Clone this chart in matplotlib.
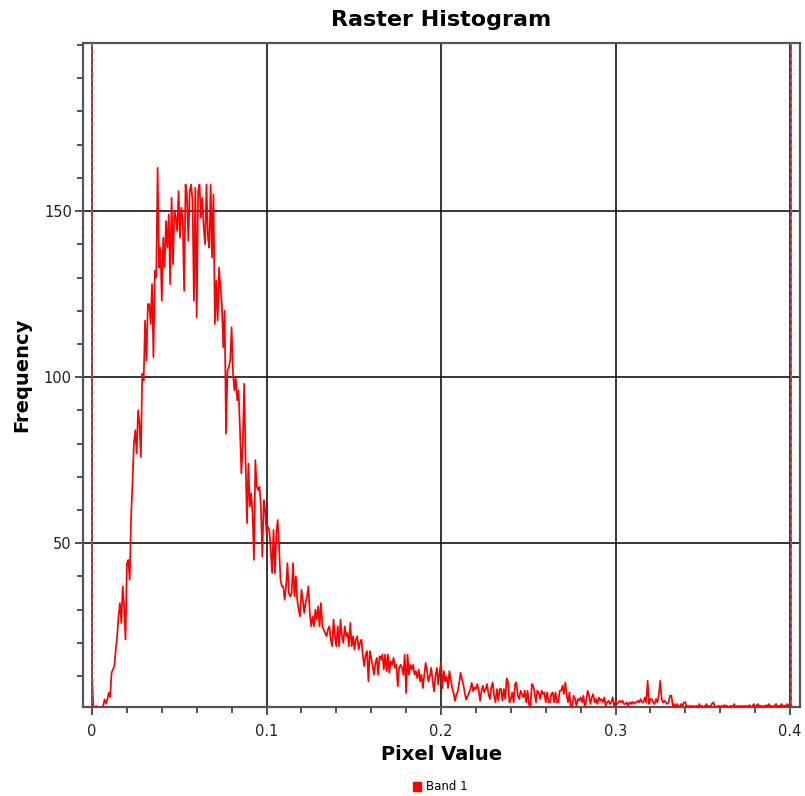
import numpy as np
import matplotlib
matplotlib.use("Agg")
import matplotlib.pyplot as plt
from matplotlib.ticker import MultipleLocator, FixedLocator
from matplotlib.patches import Patch

# ---- data ----
bin_width = 0.0008
freq = [
    11, 0, 0.5, 1, 0.5, 0, 0, 0.5, 1, 3,
    1.7, 3, 5, 3.7, 11, 12, 13, 18, 22, 28,
    32, 26, 37, 31, 21, 44, 45, 39, 58, 68,
    80, 84, 77, 90, 86, 76, 101, 99, 117, 105,
    122, 122, 116, 128, 106, 132, 130, 163, 133, 139,
    123, 142, 133, 147, 139, 149, 128, 154, 134, 150,
    148, 144, 156, 142, 151, 147, 126, 158, 155, 141,
    156, 158, 153, 123, 157, 118, 156, 158, 148, 154,
    145, 140, 158, 142, 139, 158, 136, 155, 116, 129,
    117, 133, 127, 122, 109, 120, 83, 102, 103, 105,
    115, 101, 96, 100, 93, 96, 84, 71, 80, 98,
    75, 56, 74, 61, 65, 59, 45, 75, 67, 66,
    67, 61, 46, 63, 60, 53, 55, 54, 48, 41,
    54, 41, 53, 57, 49, 39, 37, 37, 33, 37,
    44, 35, 34, 35, 44, 34, 40, 33, 30, 28,
    36, 33, 29, 32, 34, 37, 29, 25, 28, 25,
    30, 27, 31, 25, 32, 25, 24, 23, 22, 24,
    25, 21, 19, 27, 22, 19, 25, 19, 27, 22,
    20, 25, 22, 23, 19, 26, 19, 22, 18, 21,
    22, 18, 20, 21, 16, 13, 16.5, 17.5, 8.4, 17.5,
    15.5, 13, 10.4, 14, 15.5, 10.4, 16, 15, 16.5, 12,
    16.5, 11.5, 16.5, 11, 14.5, 13.4, 15.5, 12.5, 13.4, 6.9,
    12.5, 13.4, 12.5, 10.4, 16.5, 4.9, 16.5, 10.4, 13.4, 12,
    13.4, 10.4, 11.5, 9.4, 12, 8.4, 10.4, 6.4, 10.4, 14,
    11.5, 8.4, 10, 12.5, 8.4, 5.4, 10, 12.5, 7.4, 11.5,
    14, 6.4, 11.5, 8.4, 10, 6.4, 11.5, 8.9, 6.4, 4.9,
    2.5, 4.4, 5.4, 8, 11, 9, 7.4, 5, 2.9, 4,
    4.9, 6, 8, 5.4, 6.6, 6.1, 7.6, 5.6, 2.6, 5.6,
    7.1, 5.1, 6.1, 7.6, 4.6, 3.1, 6.6, 8.1, 4.1, 2.1,
    6.1, 2.6, 6.1, 6.1, 2.6, 6.1, 3.1, 9.3, 8.1, 2.1,
    3.1, 5.1, 2.1, 7.6, 8.1, 4.1, 3.1, 5.6, 4.6, 3.6,
    5.6, 2.1, 5.6, 1.6, 0.1, 7.6, 7.1, 5.1, 2.1, 5.6,
    5.1, 3.1, 5.6, 4.6, 5.1, 2.1, 5.1, 2.1, 2.1, 4.6,
    5.1, 2.1, 5.1, 2.1, 2.1, 5.6, 5.6, 7.1, 4.6, 8.1,
    4.1, 2.1, 5.1, 0.1, 0.6, 4.1, 3.1, 1.1, 3.1, 2.6,
    3.6, 2.1, 4.1, 0.6, 2.6, 5.6, 4.1, 1.6, 3.6, 4.6,
    2.1, 3.1, 1.6, 3.6, 2.6, 3.1, 2.1, 3.6, 1.1, 2.1,
    2.6, 1.6, 2.1, 3.6, 1.1, 2.1, 1.6, 2.1, 2.6, 2.1,
    2.6, 1.6, 1.6, 2.1, 1.1, 2.1, 1.6, 2.3, 1.6, 2.1,
    2.1, 2.6, 2.1, 3.1, 2.1, 2.1, 3.6, 2.1, 8.6, 1.6,
    3.1, 3.1, 2.1, 1.6, 3.1, 2.1, 4.5, 8.6, 3.1, 2.1,
    2.6, 2.1, 1.6, 2.1, 4.1, 4.1, 1.1, 1.6, 0.6, 1.6,
    1.1, 0.6, 1.6, 1.1, 2.1, 2.1, 0.6, 1.1, 0.6, 1.1,
    0.6, 1.1, 0.6, 1.1, 0.4, 1.6, 0.6, 1.1, 0.6, 0.9,
    1.6, 0.6, 1.1, 0.6, 1.6, 2.1, 1.1, 0.6, 0.9, 1.1,
    0.6, 1.1, 0.6, 1.3, 0.6, 1.1, 0.6, 0.9, 1.1, 0.6,
    1.6, 0.6, 0.9, 1.1, 0.6, 1.1, 0.6, 1.1, 0.6, 1.1,
    0.6, 1.3, 0.6, 0.9, 1.6, 0.6, 1.1, 1.6, 0.9, 1.1,
    0.6, 1.1, 0.6, 1.3, 0.9, 1.6, 0.6, 1.1, 0.6, 1.1,
    1.6, 0.6, 1.1, 0.9, 1.6, 0.6, 1.1, 0.9, 1.6, 1.1,
    0.6, 1.1,
]
pixel_values = np.arange(len(freq)) * bin_width
min_marker = 0.0
max_marker = 0.4006
x_ticks = [0, 0.1, 0.2, 0.3, 0.4]
x_tick_labels = ["0", "0.1", "0.2", "0.3", "0.4"]
y_ticks = [50, 100, 150]
y_tick_labels = ["50", "100", "150"]
series_name = "Band 1"

# ---- figure ----
W, H = 805, 796
fig = plt.figure(figsize=(W / 100, H / 100), dpi=100)
fig.patch.set_facecolor("white")
ax = fig.add_axes([83 / W, 1 - 707 / H, (800 - 83) / W, (707 - 43) / H])

ax.plot(pixel_values, freq, color="#ff0000", lw=1.25, zorder=3)

ax.axvline(min_marker, color="#ff3030", lw=1.3, zorder=4)
ax.axvline(min_marker, color="#555555", lw=1.3, dashes=(2, 2), zorder=5)
ax.axvline(max_marker, color="#ff3030", lw=1.3, zorder=4)
ax.axvline(max_marker, color="#555555", lw=1.3, dashes=(2, 2), zorder=5)

ax.set_xlim(-0.00516, 0.4057)
ax.set_ylim(0.7, 200.6)

ax.xaxis.set_major_locator(FixedLocator(x_ticks))
ax.set_xticklabels(x_tick_labels)
ax.xaxis.set_minor_locator(MultipleLocator(0.02))
ax.yaxis.set_major_locator(FixedLocator(y_ticks))
ax.set_yticklabels(y_tick_labels)
ax.yaxis.set_minor_locator(MultipleLocator(10))

ax.grid(True, which="major", color="black", lw=1.1, zorder=1)
ax.set_axisbelow(True)
ax.tick_params(which="major", direction="out", length=6, width=1.2,
               color="#333333", labelsize=10.5, labelcolor="#222222")
ax.tick_params(axis="x", which="major", pad=6)
ax.tick_params(axis="y", which="major", pad=2)
ax.tick_params(which="minor", direction="out", length=4, width=1.2,
               color="#333333")
for s in ax.spines.values():
    s.set_color("#555555")
    s.set_linewidth(1.6)

fig.text(441.5 / W, 1 - 20 / H, "Raster Histogram", ha="center", va="center",
         fontsize=16, fontweight="bold")
fig.text(441.5 / W, 1 - 755 / H, "Pixel Value", ha="center", va="center",
         fontsize=14, fontweight="bold")
fig.text(22 / W, 1 - 375 / H, "Frequency", ha="center", va="center",
         rotation=90, fontsize=14, fontweight="bold")

handle = Patch(facecolor="#ff0000", edgecolor="#ff0000")
fig.legend([handle], [series_name], loc="center",
           bbox_to_anchor=(440 / W, 1 - 787 / H), frameon=False,
           fontsize=8.5, handlelength=0.7, handleheight=0.9,
           handletextpad=0.4, borderpad=0)

fig.savefig("out.png", dpi=100)
